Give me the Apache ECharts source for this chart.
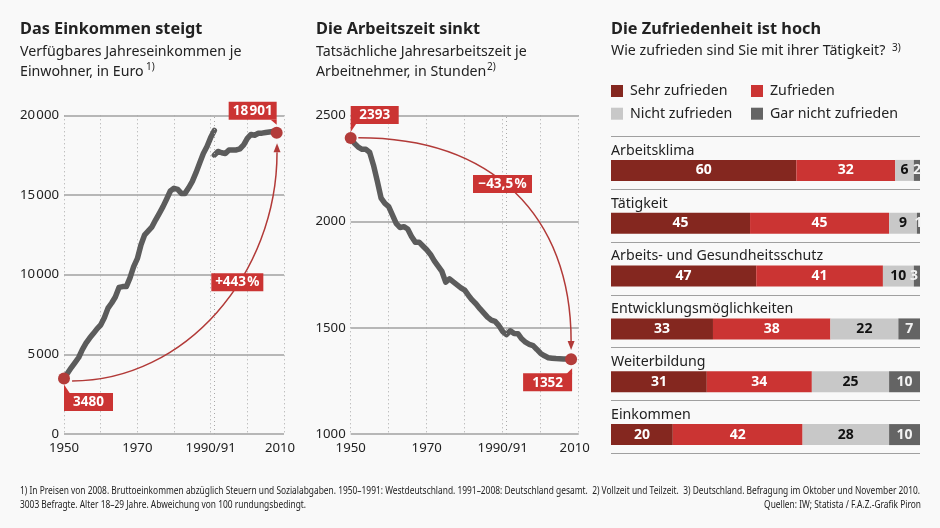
<!DOCTYPE html>
<html><head><meta charset="utf-8">
<script src="https://cdn.jsdelivr.net/npm/echarts@6/dist/echarts.min.js"></script>
<style>html,body{margin:0;padding:0;background:#f9f9f9}#c{width:940px;height:528px}</style>
</head><body><div id="c"></div>
<script>
const incomeYearsWest=[1950,1951,1952,1953,1954,1955,1956,1957,1958,1959,1960,1961,1962,1963,1964,1965,1966,1967,1968,1969,1970,1971,1972,1973,1974,1975,1976,1977,1978,1979,1980,1981,1982,1983,1984,1985,1986,1987,1988,1989,1990,1991];
const incomeWest=[3480,3830,4170,4480,4800,5300,5700,6020,6300,6600,6840,7300,7900,8220,8600,9200,9250,9250,9800,10500,11000,11875,12500,12750,13000,13440,13850,14270,14750,15250,15420,15350,15100,15100,15450,15850,16400,17000,17600,18040,18600,19050];
const incomeYearsAll=[1991,1992,1993,1994,1995,1996,1997,1998,1999,2000,2001,2002,2003,2004,2005,2006,2007,2008];
const incomeAll=[17500,17730,17650,17600,17820,17830,17830,17900,18140,18550,18800,18750,18870,18880,18920,18950,18980,18901];
const hoursYears=[1950,1951,1952,1953,1954,1955,1956,1957,1958,1959,1960,1961,1962,1963,1964,1965,1966,1967,1968,1969,1970,1971,1972,1973,1974,1975,1976,1977,1978,1979,1980,1981,1982,1983,1984,1985,1986,1987,1988,1989,1990,1991,1992,1993,1994,1995,1996,1997,1998,1999,2000,2001,2002,2003,2004,2005,2006,2007,2008];
const hoursValues=[2393,2368,2350,2340,2340,2325,2265,2190,2110,2085,2070,2030,1990,1972,1976,1965,1930,1903,1903,1885,1867,1845,1815,1790,1765,1715,1730,1716,1702,1688,1677,1652,1630,1612,1590,1570,1550,1536,1530,1510,1482,1468,1486,1473,1472,1448,1432,1422,1416,1398,1379,1368,1359,1357,1355,1354,1353,1353,1352];
const yearTicks={1950:'1950',1970:'1970',1990:'1990/91',2010:'{m|2010}'};
const reunification=1991;
const satisfactionTopics=['Arbeitsklima','Tätigkeit','Arbeits- und Gesundheitsschutz','Entwicklungsmöglichkeiten','Weiterbildung','Einkommen'];
const levelNames=['Sehr zufrieden','Zufrieden','Nicht zufrieden','Gar nicht zufrieden'];
const sehrZufrieden=[60,45,47,33,31,20];
const zufrieden=[32,45,41,38,34,42];
const nichtZufrieden=[6,9,10,22,25,28];
const garNichtZufrieden=[2,1,3,7,10,10];
const incomeFirst=[1950,3480], incomeLast=[2008,18901];
const hoursFirst=[1950,2393], hoursLast=[2008,1352];

const FONT='"Noto Sans"';
const INK='#222', RED='#cb3433', DOTS='#a8a8a8', RULE='#a0a0a0';
const thin=v=>String(v).replace(/\B(?=(\d{3})+$)/g,'\u200a');

function callout(api,anchor,text,box,tail){
  const p=api.coord(anchor);
  return [
    {type:'polygon',shape:{points:tail.map(t=>[p[0]+t[0],p[1]+t[1]])},style:{fill:RED}},
    {type:'rect',shape:{x:p[0]+box[0],y:p[1]+box[1],width:box[2],height:box[3]},style:{fill:RED}},
    {type:'text',style:{text,x:p[0]+box[0]+box[2]/2,y:p[1]+box[1]+box[3]/2+.5,align:'center',verticalAlign:'middle',fill:'#fff',font:'bold 13.5px '+FONT}}
  ];
}
function curve(api,pts){
  const c=pts.map(q=>api.coord(q));
  const [a,b,d,e]=c;
  const dx=e[0]-d[0],dy=e[1]-d[1],l=Math.hypot(dx,dy),ux=dx/l,uy=dy/l;
  const bx=e[0]-ux*9,by=e[1]-uy*9;
  return [
    {type:'bezierCurve',shape:{x1:a[0],y1:a[1],cpx1:b[0],cpy1:b[1],cpx2:d[0],cpy2:d[1],x2:bx,y2:by},style:{fill:null,stroke:'#b23a38',lineWidth:1.5}},
    {type:'polygon',shape:{points:[[e[0],e[1]],[bx-uy*3.5,by+ux*3.5],[bx+uy*3.5,by-ux*3.5]]},style:{fill:'#b23a38'}}
  ];
}
function annotate(idx,build,anchor){
  return {type:'custom',xAxisIndex:idx,yAxisIndex:idx,clip:false,silent:true,z:6,data:[anchor],encode:{x:0,y:1},
    renderItem:(p,api)=>({type:'group',children:build(api)})};
}
function lineSeries(idx,xs,ys,mark){
  const s={type:'line',xAxisIndex:idx,yAxisIndex:idx,data:xs.map((x,i)=>[x,ys[i]]),showSymbol:false,smooth:false,silent:true,z:3,
    lineStyle:{color:'#5c5c5c',width:5.5,join:'round',cap:'round'}};
  if(mark) s.markLine={silent:true,symbol:'none',label:{show:false},lineStyle:{color:DOTS,width:1,type:[1,3]},data:[{xAxis:reunification}]};
  return s;
}
function ends(idx,pts){
  return {type:'scatter',xAxisIndex:idx,yAxisIndex:idx,data:pts,symbolSize:12,silent:true,z:5,itemStyle:{color:'#b33c3a',opacity:1}};
}
function xA(i){return {type:'value',gridIndex:i,min:1950,max:2010,interval:10,
  axisLine:{show:false},axisTick:{show:false},
  splitLine:{show:true,lineStyle:{color:DOTS,width:1,type:[1,3]}},
  axisLabel:{margin:8,color:INK,fontFamily:FONT,fontSize:13.2,hideOverlap:false,showMinLabel:true,showMaxLabel:true,
    formatter:v=>yearTicks[v]||'',rich:{m:{color:INK,fontFamily:FONT,fontSize:13.2,padding:[0,8,0,0]}}}};}
function yA(i,min,max,interval,fmt){return {type:'value',gridIndex:i,min,max,interval,
  axisLine:{show:false},axisTick:{show:false},
  splitLine:{show:true,lineStyle:{color:RULE,width:1.5}},
  axisLabel:{margin:5,color:INK,fontFamily:FONT,fontSize:13.2,formatter:fmt}};}

const colors=['#84271f',RED,'#c8c8c8','#646464'];
const labelInk=['#fff','#fff','#111','#f2f2f2'];
const rowTotal=i=>sehrZufrieden[i]+zufrieden[i]+nichtZufrieden[i]+garNichtZufrieden[i];
const barSeries=[sehrZufrieden,zufrieden,nichtZufrieden,garNichtZufrieden].map((d,i)=>({
  type:'bar',name:levelNames[i],xAxisIndex:2,yAxisIndex:2,stack:'s',barWidth:21,silent:true,
  data:d.map((v,r)=>(i===3&&rowTotal(r)>100)?{value:v,label:{offset:[-3,0]}}:v),
  itemStyle:{color:colors[i]},
  label:{show:true,position:'inside',color:labelInk[i],fontFamily:FONT,fontWeight:'bold',fontSize:14}
}));

function txt(x,y,text,font,extra){return {type:'text',silent:true,style:Object.assign({x,y,text,font:font,fill:INK,verticalAlign:'middle'},extra||{})};}
const H='bold 16.3px '+FONT, S='14.2px '+FONT, SUP='10px '+FONT, FN='10.6px '+FONT;

const note1='1) In Preisen von 2008. Bruttoeinkommen abzüglich Steuern und Sozialabgaben. 1950–1991: Westdeutschland. 1991–2008: Deutschland gesamt.  2) Vollzeit und Teilzeit.  3) Deutschland. Befragung im Oktober und November 2010.';
const note2='3003 Befragte. Alter 18–29 Jahre. Abweichung von 100 rundungsbedingt.';
const note3='Quellen: IW; Statista / F.A.Z.-Grafik Piron';
const mctx=document.createElement('canvas').getContext('2d');
mctx.font=FN;
const fnScale=900/mctx.measureText(note1).width;
function fn(x,y,text,align){return {type:'text',silent:true,x,y,scaleX:fnScale,style:{x:0,y:0,text,font:FN,fill:INK,verticalAlign:'middle',align}};}

const legendBase={top:84,orient:'vertical',padding:0,itemWidth:12,itemHeight:12,itemGap:8.7,selectedMode:false,icon:'rect',textStyle:{color:INK,fontFamily:FONT,fontSize:14.2,padding:[0,0,0,2]}};

const option={
  backgroundColor:'#f9f9f9',animation:false,
  grid:[
    {left:64,top:115.3,width:220,height:318.7},
    {left:350.7,top:115.3,width:228,height:318.7},
    {left:611,top:144,width:309,height:317},
    {left:611,top:136.3,width:309,height:317}
  ],
  xAxis:[xA(0),xA(1),
    {type:'value',gridIndex:2,min:0,max:100,show:false},
    {type:'value',gridIndex:3,min:0,max:100,show:false}],
  yAxis:[yA(0,0,20000,5000,thin),yA(1,1000,2500,500,v=>String(v)),
    {type:'category',gridIndex:2,inverse:true,data:satisfactionTopics,show:false},
    {type:'category',gridIndex:3,inverse:true,data:satisfactionTopics,axisLine:{show:false},axisTick:{show:false},
      splitLine:{show:true,interval:0,lineStyle:{color:RULE,width:1.2}},
      axisLabel:{inside:true,margin:0,interval:0,align:'left',verticalAlign:'top',color:INK,fontFamily:FONT,fontSize:14.2,
        padding:[-19,0,0,0]}}],
  legend:[
    Object.assign({left:611,data:[levelNames[0],levelNames[2]]},legendBase),
    Object.assign({left:751,data:[levelNames[1],levelNames[3]]},legendBase)
  ],
  series:[
    lineSeries(0,incomeYearsWest,incomeWest,true),
    lineSeries(0,incomeYearsAll,incomeAll,false),
    ends(0,[incomeFirst,incomeLast]),
    annotate(0,api=>[
      ...curve(api,[[1952.2,3326],[1983,3326],[2008.1,10010],[2008.1,18240]]),
      ...callout(api,incomeLast,thin(incomeLast[1]),[-48,-31,48,18],[[-6,-13],[0,-13],[0,-8]]),
      ...callout(api,incomeFirst,String(incomeFirst[1]),[0,14.5,49,18],[[0,6],[0,15],[6,15]]),
      ...callout(api,[2000,10000],'+443\u200a%',[-36,-1.5,52,18],[[0,0],[0,0],[0,0]])
    ],incomeLast),
    lineSeries(1,hoursYears,hoursValues,true),
    ends(1,[hoursFirst,hoursLast]),
    annotate(1,api=>[
      ...curve(api,[[1952,2394],[1987.2,2394],[2008,2030],[2008,1395]]),
      ...callout(api,hoursFirst,String(hoursFirst[1]),[0,-32,48,18],[[0,-6],[0,-15],[6,-15]]),
      ...callout(api,hoursLast,String(hoursLast[1]),[-48,14,49,18],[[1,9],[1,15],[-5,15]]),
      ...callout(api,[1990,2250],'\u221243,5\u200a%',[-29.7,6.6,59,18],[[0,0],[0,0],[0,0]])
    ],hoursLast),
    ...barSeries,
    {type:'bar',xAxisIndex:3,yAxisIndex:3,data:[],silent:true}
  ],
  graphic:[
    txt(20,29,'Das Einkommen steigt',H),
    txt(20,52,'Verfügbares Jahreseinkommen je',S),
    txt(20,72,'Einwohner, in Euro',S),
    txt(146,67,'1)',SUP),
    txt(316,29,'Die Arbeitszeit sinkt',H),
    txt(316,52,'Tatsächliche Jahresarbeitszeit je',S),
    txt(316,72,'Arbeitnehmer, in Stunden',S),
    txt(487,67,'2)',SUP),
    txt(611,29,'Die Zufriedenheit ist hoch',H),
    txt(611,51,'Wie zufrieden sind Sie mit ihrer Tätigkeit?',S),
    txt(892,48,'3)',SUP),
    fn(20,491,note1,'left'),
    fn(20,505,note2,'left'),
    fn(921,505,note3,'right')
  ]
};
const chart=echarts.init(document.getElementById('c'),null,{renderer:'canvas'});
chart.setOption(option);
</script></body></html>
